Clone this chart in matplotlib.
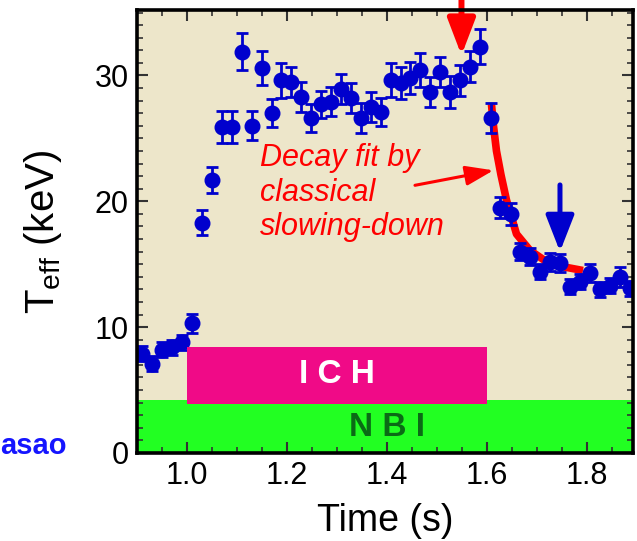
import numpy as np
import matplotlib
matplotlib.use('Agg')
import matplotlib.pyplot as plt
from matplotlib.patches import Rectangle
from matplotlib.ticker import MultipleLocator

plt.rcParams['font.family'] = ['Liberation Sans', 'DejaVu Sans']
plt.rcParams['mathtext.fontset'] = 'custom'
plt.rcParams['mathtext.rm'] = 'Liberation Sans'

# measured T_eff (keV) vs time (s)
time = [0.911, 0.931, 0.951, 0.971, 0.991, 1.011, 1.031, 1.050, 1.070, 1.090,
        1.111, 1.130, 1.150, 1.170, 1.189, 1.209, 1.229, 1.249, 1.269, 1.289,
        1.308, 1.328, 1.348, 1.369, 1.388, 1.408, 1.428, 1.447, 1.467, 1.487,
        1.507, 1.527, 1.547, 1.567, 1.587, 1.608, 1.627, 1.648, 1.667, 1.687,
        1.707, 1.727, 1.747, 1.767, 1.787, 1.806, 1.826, 1.846, 1.866, 1.886]
teff = [7.9, 7.1, 8.2, 8.4, 8.8, 10.3, 18.3, 21.7, 25.9, 25.9,
        31.9, 26.0, 30.6, 27.0, 29.6, 29.5, 28.3, 26.6, 27.7, 27.9,
        28.9, 28.2, 26.6, 27.5, 27.1, 29.6, 29.4, 29.8, 30.4, 28.7,
        30.3, 28.7, 29.6, 30.7, 32.3, 26.6, 19.5, 19.0, 16.0, 15.6,
        14.4, 15.2, 15.1, 13.2, 13.6, 14.3, 13.0, 13.3, 14.0, 13.1]
err = [0.6, 0.6, 0.6, 0.6, 0.6, 0.75, 1.0, 1.05, 1.25, 1.3,
       1.47, 1.15, 1.33, 1.1, 1.36, 1.2, 1.2, 1.1, 1.1, 1.15,
       1.2, 1.2, 1.2, 1.2, 1.1, 1.35, 1.3, 1.3, 1.35, 1.2,
       1.2, 1.25, 1.2, 1.25, 1.4, 1.2, 0.85, 0.85, 0.7, 0.7,
       0.6, 0.7, 0.7, 0.6, 0.6, 0.7, 0.6, 0.6, 0.8, 0.6]

# decay fit curve
fit_t = [1.609, 1.613, 1.619, 1.628, 1.639, 1.659, 1.686, 1.719, 1.752, 1.792]
fit_y = [27.7, 26.0, 24.0, 22.1, 20.1, 17.4, 16.1, 15.2, 14.8, 14.5]

# heating periods
nbi = (0.9, 1.9, 0.0, 4.2)
ich = (1.0, 1.6, 3.9, 8.45)

blue = '#0000CD'
fig = plt.figure(figsize=(6.37, 5.41), dpi=100)
ax = fig.add_axes([0.215, 0.1627, 0.7787, 0.8188])
ax.set_facecolor('#EDE6CA')

ax.add_patch(Rectangle((nbi[0], nbi[2]), nbi[1] - nbi[0], nbi[3] - nbi[2],
                       color='#22FF22', lw=0, zorder=1))
ax.add_patch(Rectangle((ich[0], ich[2]), ich[1] - ich[0], ich[3] - ich[2],
                       color='#F00A87', lw=0, zorder=5))
ax.text(1.3, 6.2, 'I C H', color='white', fontsize=24, fontweight='bold',
        ha='center', va='center', zorder=6)
ax.text(1.4, 2.0, 'N B I', color='#0B6A16', fontsize=24, fontweight='bold',
        ha='center', va='center', zorder=6)

ax.plot(fit_t, fit_y, color='red', lw=5.5, solid_capstyle='butt', zorder=3)
ax.errorbar(time, teff, yerr=err, fmt='o', ms=10.5, color=blue, ecolor=blue,
            elinewidth=2, capsize=4, capthick=2, zorder=4)

# arrows
ax.annotate('', xy=(1.549, 31.6), xytext=(1.549, 36.6),
            arrowprops=dict(arrowstyle='-|>,head_width=0.42,head_length=1.1',
                            mutation_scale=20, color='red', lw=4.3,
                            shrinkA=0, shrinkB=0),
            annotation_clip=False, zorder=7)
ax.annotate('', xy=(1.746, 16.0), xytext=(1.746, 21.3),
            arrowprops=dict(arrowstyle='-|>,head_width=0.43,head_length=1.1',
                            mutation_scale=20, color=blue, lw=3.6,
                            shrinkA=0, shrinkB=0), zorder=7)
ax.annotate('', xy=(1.613, 22.46), xytext=(1.456, 21.27),
            arrowprops=dict(arrowstyle='-|>,head_width=0.3,head_length=0.85',
                            mutation_scale=20, color='red', lw=2.2,
                            shrinkA=0, shrinkB=0), zorder=7)

for s, yb in zip(['Decay fit by', 'classical', 'slowing-down'], [22.78, 20.0, 17.3]):
    ax.text(1.146, yb, s, color='red', fontsize=22, style='italic',
            ha='left', va='baseline', zorder=7)

ax.set_xlim(0.9, 1.892)
ax.set_ylim(0, 35.2)
ax.xaxis.set_major_locator(MultipleLocator(0.2))
ax.xaxis.set_minor_locator(MultipleLocator(0.05))
ax.yaxis.set_major_locator(MultipleLocator(10))
ax.yaxis.set_minor_locator(MultipleLocator(1))
ax.set_xticks([1.0, 1.2, 1.4, 1.6, 1.8])
ax.set_xticklabels(['1.0', '1.2', '1.4', '1.6', '1.8'])
ax.tick_params(which='both', direction='in', top=True, right=True,
               color='#333333', labelsize=22)
ax.tick_params(which='major', length=8, width=1.5, pad=6)
ax.tick_params(which='minor', length=4.5, width=1.2)
for sp in ax.spines.values():
    sp.set_linewidth(2.6)
    sp.set_zorder(8)

ax.set_xlabel('Time (s)', fontsize=27, labelpad=8.5)
ax.set_ylabel(r'T$_{\rm eff}$ (keV)', fontsize=29, labelpad=22)

fig.text(0.5 / 637, 1 - 454 / 541, 'asao', color='#1515FF', fontsize=21,
         fontweight='bold', ha='left', va='baseline')

fig.savefig('out.png', dpi=100)
